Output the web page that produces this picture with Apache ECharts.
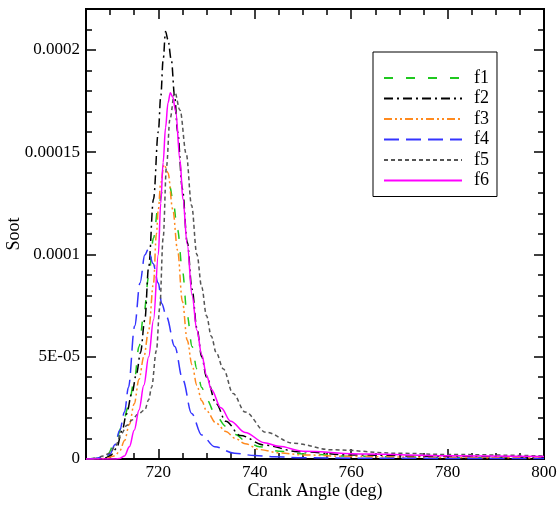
<!DOCTYPE html>
<html>
<head>
<meta charset="utf-8">
<script src="https://cdn.jsdelivr.net/npm/echarts@6/dist/echarts.min.js"></script>
<style>
  html, body { margin: 0; padding: 0; background: #fff; }
  #chart { width: 558px; height: 505px; }
</style>
</head>
<body>
<div id="chart"></div>
<script>
// Soot history against crank angle for six cases f1..f6
const seriesNames = ['f1', 'f2', 'f3', 'f4', 'f5', 'f6'];

const f1Angle = [705, 708, 709.3, 711, 712.5, 713.8, 715, 716, 717, 718, 719, 720, 721, 721.6, 722.4, 723, 724, 725, 726, 727, 728, 729, 730, 732, 734, 736, 738, 741, 745, 750, 760, 770, 780, 800];
const f1Soot  = [0, 0.3e-6, 1.5e-6, 7.8e-6, 1.6e-5, 2.56e-5, 3.8e-5, 5.5e-5, 7.1e-5, 8.9e-5, 1.08e-4, 1.24e-4, 1.32e-4, 1.34e-4, 1.33e-4, 1.27e-4, 1.12e-4, 9.2e-5, 7.0e-5, 5.5e-5, 4.4e-5, 3.5e-5, 2.9e-5, 2.1e-5, 1.6e-5, 1.2e-5, 9e-6, 6e-6, 3.8e-6, 2.5e-6, 1.4e-6, 1.0e-6, 0.8e-6, 0.6e-6];

const f2Angle = [705, 709, 710, 711.3, 712.5, 713.4, 714.5, 715.5, 716.3, 717.2, 718, 719, 720, 720.5, 721, 721.5, 722, 722.7, 723.4, 724, 725, 726, 727, 728, 729, 730, 732, 734, 737, 742, 749, 760, 780, 800];
const f2Soot  = [0, 0.5e-6, 1.5e-6, 5e-6, 1.4e-5, 2.2e-5, 3.2e-5, 4.2e-5, 5.2e-5, 6.8e-5, 9.4e-5, 1.27e-4, 1.6e-4, 1.77e-4, 1.95e-4, 2.09e-4, 2.05e-4, 1.95e-4, 1.77e-4, 1.6e-4, 1.32e-4, 1.06e-4, 8.3e-5, 6.4e-5, 5.0e-5, 4.0e-5, 2.7e-5, 1.85e-5, 1.15e-5, 6.8e-6, 3.6e-6, 2e-6, 1.2e-6, 0.8e-6];

const f3Angle = [705, 709, 711, 712, 713, 714, 715, 716, 717, 718, 719, 719.6, 720, 720.5, 721.2, 722, 723, 724, 725, 726, 727, 728, 729, 730, 732, 734, 736, 738, 741, 745, 750, 760, 780, 800];
const f3Soot  = [0, 0.3e-6, 1.5e-6, 4e-6, 9e-6, 1.7e-5, 2.7e-5, 3.9e-5, 5.0e-5, 6.3e-5, 8.6e-5, 1.1e-4, 1.22e-4, 1.35e-4, 1.44e-4, 1.4e-4, 1.22e-4, 1.02e-4, 7.7e-5, 5.8e-5, 4.6e-5, 3.6e-5, 2.85e-5, 2.35e-5, 1.75e-5, 1.35e-5, 1.0e-5, 7.5e-6, 4.6e-6, 3e-6, 2e-6, 1.2e-6, 0.7e-6, 0.5e-6];

const f4Angle = [705, 707, 708.9, 710, 711, 712, 713, 713.8, 715.1, 716.2, 717.2, 717.9, 718.9, 720, 720.7, 721.7, 723.4, 725.1, 726.9, 729, 731.7, 735.8, 740, 744, 750, 760, 780, 800];
const f4Soot  = [0, 0.3e-6, 1.1e-6, 2.5e-6, 7e-6, 1.4e-5, 2.3e-5, 3.5e-5, 6.5e-5, 8.6e-5, 9.97e-5, 1.025e-4, 9.56e-5, 8.6e-5, 7.6e-5, 6.95e-5, 5.5e-5, 3.86e-5, 2.23e-5, 1.17e-5, 6e-6, 2.8e-6, 1.7e-6, 1.1e-6, 0.6e-6, 0.4e-6, 0.3e-6, 0.2e-6];

const f5Angle = [705, 707, 708.6, 710, 711, 712.4, 713.5, 714.5, 715.8, 717.2, 718, 718.6, 719.6, 720.3, 721, 721.7, 722.4, 723.4, 724.5, 725.8, 726.9, 728, 729, 730, 731, 732, 733.5, 735.5, 738, 742.4, 748, 756, 770, 780, 800];
const f5Soot  = [0, 0.3e-6, 1.5e-6, 3e-6, 6e-6, 1.26e-5, 1.65e-5, 1.9e-5, 2.2e-5, 2.4e-5, 2.9e-5, 3.5e-5, 5.3e-5, 7.4e-5, 1.08e-4, 1.43e-4, 1.66e-4, 1.795e-4, 1.705e-4, 1.49e-4, 1.24e-4, 1.0e-4, 8.4e-5, 7.0e-5, 6.0e-5, 5.2e-5, 4.4e-5, 3.2e-5, 2.3e-5, 1.3e-5, 7.7e-6, 4.5e-6, 2.8e-6, 2.2e-6, 1.5e-6];

const f6Angle = [705, 711, 712, 713, 714, 715, 716, 717, 718, 719, 720, 720.5, 721, 721.5, 722, 722.5, 723, 723.6, 724.5, 725.1, 726, 727, 728, 729, 730, 731, 733, 735, 738, 742, 745, 750, 763, 780, 800];
const f6Soot  = [0, 0, 0.3e-6, 1.5e-6, 6e-6, 1.4e-5, 2.4e-5, 3.6e-5, 5.0e-5, 6.8e-5, 1.0e-4, 1.25e-4, 1.45e-4, 1.62e-4, 1.74e-4, 1.79e-4, 1.77e-4, 1.7e-4, 1.46e-4, 1.27e-4, 1.05e-4, 8.0e-5, 6.3e-5, 5.1e-5, 4.1e-5, 3.4e-5, 2.5e-5, 1.85e-5, 1.3e-5, 8e-6, 6.2e-6, 3.8e-6, 2.4e-6, 1.6e-6, 1.2e-6];

// Axis ticks and labels
const xMajorTicks = [720, 740, 760, 780, 800];
const xMinorTicks = [705, 710, 715, 725, 730, 735, 745, 750, 755, 765, 770, 775, 785, 790, 795];
const yMajorTicks = [0, 0.00005, 0.0001, 0.00015, 0.0002];
const yTickLabels = ['0', '5E-05', '0.0001', '0.00015', '0.0002'];
const yMinorTicks = [0.00001, 0.00002, 0.00003, 0.00004, 0.00006, 0.00007, 0.00008, 0.00009,
                     0.00011, 0.00012, 0.00013, 0.00014, 0.00016, 0.00017, 0.00018, 0.00019, 0.00021];

const FONT = "'Liberation Serif', 'DejaVu Serif', serif";
const X_RANGE = { min: 705, max: 800 };
const Y_RANGE = { min: 0, max: 0.00022 };

const styles = [
  { color: '#1fc81f', dash: [9, 13] },
  { color: '#000000', dash: [9, 4, 2, 4] },
  { color: '#ff8a1f', dash: [8, 3, 2, 3, 2, 3] },
  { color: '#3434ff', dash: [15, 7] },
  { color: '#555555', dash: [4, 3] },
  { color: '#ff00ff', dash: 'solid' }
];

const angles = [f1Angle, f2Angle, f3Angle, f4Angle, f5Angle, f6Angle];
const soots  = [f1Soot, f2Soot, f3Soot, f4Soot, f5Soot, f6Soot];

const axisLine = { show: true, onZero: false, lineStyle: { color: '#000', width: 2 } };

function xAxisDef(position, ticks, len, withLabels) {
  return Object.assign({
    type: 'value', position: position, gridIndex: 0,
    axisLine: axisLine,
    axisTick: { show: true, inside: true, length: len, customValues: ticks, lineStyle: { color: '#000', width: 1.5 } },
    axisLabel: withLabels ? {
      show: true, customValues: xMajorTicks, color: '#000', fontFamily: FONT, fontSize: 17, margin: 5
    } : { show: false },
    splitLine: { show: false }
  }, X_RANGE);
}

function yAxisDef(position, ticks, len, withLabels) {
  return Object.assign({
    type: 'value', position: position, gridIndex: 0,
    axisLine: axisLine,
    axisTick: { show: true, inside: true, length: len, customValues: ticks, lineStyle: { color: '#000', width: 1.5 } },
    axisLabel: withLabels ? {
      show: true, customValues: yMajorTicks, color: '#000', fontFamily: FONT, fontSize: 17, margin: 6,
      formatter: function (v) {
        const i = yMajorTicks.findIndex(t => Math.abs(t - v) < 1e-9);
        return i >= 0 ? yTickLabels[i] : '';
      }
    } : { show: false },
    splitLine: { show: false }
  }, Y_RANGE);
}

const xAxes = [
  Object.assign(xAxisDef('bottom', xMinorTicks, 6, true), {
    name: 'Crank Angle (deg)', nameLocation: 'middle', nameGap: 23, nameMoveOverlap: false,
    nameTextStyle: { color: '#000', fontFamily: FONT, fontSize: 18 }
  }),
  xAxisDef('bottom', xMajorTicks, 10, false),
  xAxisDef('top', xMinorTicks, 6, false),
  xAxisDef('top', xMajorTicks, 10, false)
];

const yAxes = [
  Object.assign(yAxisDef('left', yMinorTicks, 6, true), {
    name: 'Soot', nameLocation: 'middle', nameGap: 63, nameMoveOverlap: false,
    nameTextStyle: { color: '#000', fontFamily: FONT, fontSize: 18 }
  }),
  yAxisDef('left', yMajorTicks, 10, false),
  yAxisDef('right', yMinorTicks, 6, false),
  yAxisDef('right', yMajorTicks, 10, false)
];

const series = seriesNames.map((name, i) => ({
  name: name,
  type: 'line',
  xAxisIndex: 0,
  yAxisIndex: 0,
  data: angles[i].map((a, k) => [a, soots[i][k]]),
  smooth: 0.35,
  smoothMonotone: 'x',
  symbol: 'none',
  clip: true,
  lineStyle: { color: styles[i].color, width: 1.5, type: styles[i].dash },
  itemStyle: { color: styles[i].color },
  emphasis: { disabled: true }
}));

const chart = echarts.init(document.getElementById('chart'), null, { renderer: 'canvas' });
chart.setOption({
  animation: false,
  backgroundColor: '#fff',
  grid: { left: 86, right: 14, top: 9, bottom: 46, containLabel: false, outerBoundsMode: 'none' },
  xAxis: xAxes,
  yAxis: yAxes,
  legend: {
    orient: 'vertical',
    left: 373,
    top: 52,
    padding: [17, 8, 7, 10],
    itemWidth: 78,
    itemHeight: 14,
    itemGap: 2.5,
    backgroundColor: '#fff',
    borderColor: '#000',
    borderWidth: 1,
    data: seriesNames,
    itemStyle: { opacity: 0 },
    textStyle: { color: '#000', fontFamily: FONT, fontSize: 18, padding: [0, 0, 0, 7] }
  },
  series: series
});
</script>
</body>
</html>
